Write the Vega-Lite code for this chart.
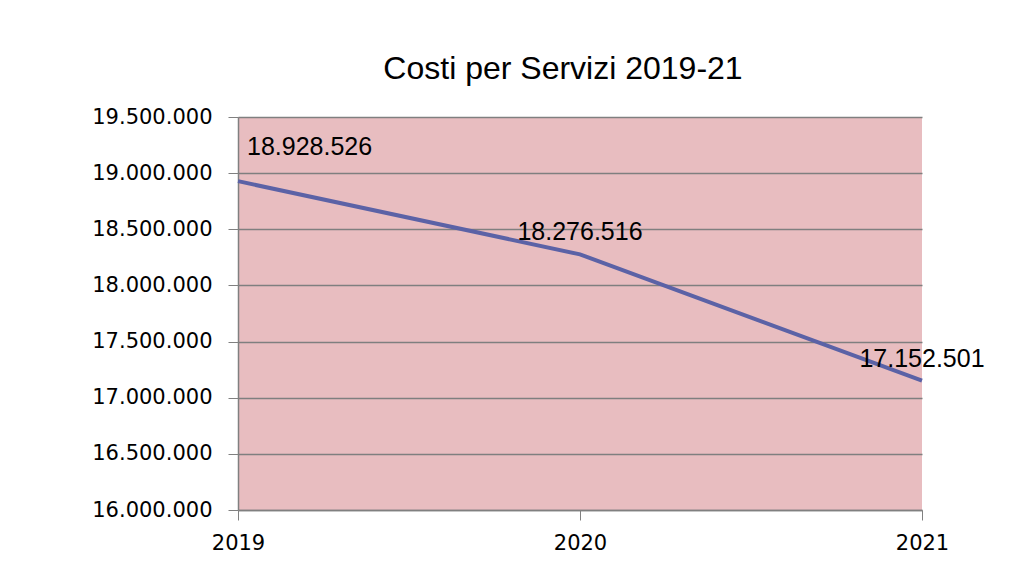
{
  "$schema": "https://vega.github.io/schema/vega-lite/v6.json",
  "width": 684,
  "height": 393,
  "autosize": {"type": "none"},
  "padding": {"left": 238, "top": 117, "right": 88, "bottom": 70},
  "background": "white",
  "title": {
    "text": "Costi per Servizi 2019-21",
    "font": "Liberation Sans",
    "fontSize": 32,
    "fontWeight": "normal",
    "color": "#000000",
    "anchor": "middle",
    "dx": -17,
    "offset": 20
  },
  "data": {
    "values": [
      {"anno": "2019", "costi": 18928526},
      {"anno": "2020", "costi": 18276516},
      {"anno": "2021", "costi": 17152501}
    ]
  },
  "encoding": {
    "x": {
      "field": "anno",
      "type": "ordinal",
      "scale": {"type": "point", "padding": 0},
      "axis": {
        "title": null,
        "labelAngle": 0,
        "labelFont": "DejaVu Sans",
        "labelFontSize": 21,
        "labelColor": "#000000",
        "labelPadding": 12,
        "tickSize": 10,
        "tickColor": "#808080",
        "domainColor": "#808080",
        "domainWidth": 1.5,
        "grid": false
      }
    },
    "y": {
      "field": "costi",
      "type": "quantitative",
      "scale": {"domain": [16000000, 19500000], "nice": false, "zero": false},
      "axis": {
        "title": null,
        "values": [16000000, 16500000, 17000000, 17500000, 18000000, 18500000, 19000000, 19500000],
        "format": ",d",
        "labelFont": "DejaVu Sans",
        "labelFontSize": 21,
        "labelColor": "#000000",
        "labelPadding": 16,
        "tickSize": 10,
        "tickColor": "#808080",
        "domainColor": "#808080",
        "domainWidth": 1.5,
        "grid": true,
        "gridColor": "#7f7f7f",
        "gridWidth": 1.5
      }
    }
  },
  "layer": [
    {
      "mark": {"type": "line", "color": "#5b62a6", "strokeWidth": 4, "interpolate": "linear"}
    },
    {
      "transform": [{"filter": "datum.anno == '2019'"}],
      "mark": {"type": "text", "font": "Liberation Sans", "fontSize": 25, "color": "#000000", "align": "left", "baseline": "middle", "dx": 9, "dy": -34},
      "encoding": {"text": {"field": "costi", "type": "quantitative", "format": ",d"}}
    },
    {
      "transform": [{"filter": "datum.anno != '2019'"}],
      "mark": {"type": "text", "font": "Liberation Sans", "fontSize": 25, "color": "#000000", "align": "center", "baseline": "middle", "dy": -22},
      "encoding": {"text": {"field": "costi", "type": "quantitative", "format": ",d"}}
    }
  ],
  "config": {
    "locale": {"number": {"decimal": ",", "thousands": ".", "grouping": [3], "currency": ["€", ""]}},
    "view": {"fill": "#e8bdc0", "stroke": null}
  }
}
